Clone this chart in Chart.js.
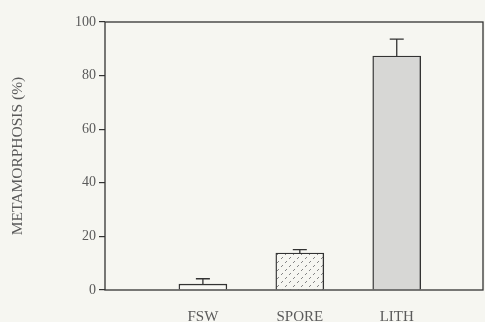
<!DOCTYPE html>
<html>
<head>
<meta charset="utf-8">
<script src="https://cdn.jsdelivr.net/npm/chart.js@4/dist/chart.umd.min.js"></script>
<style>
  html, body { margin: 0; padding: 0; background: #f6f6f1; }
  #wrap { width: 485px; height: 322px; }
</style>
</head>
<body>
<div id="wrap"><canvas id="grafico" width="485" height="322"></canvas></div>
<script>
// Datos
const categorias = ['FSW', 'SPORE', 'LITH']
const metamorfosis = [2.2, 13.8, 87.3]
const errores = [2.0, 1.3, 6.3]
const ticksY = [0, 20, 40, 60, 80, 100]

const serif = '"Liberation Serif", "DejaVu Serif", serif'
const gris = '#5a5a5a'
const linea = '#333'

// Trama punteada para la barra SPORE
const trama = () => {
  const c = document.createElement('canvas')
  c.width = 8
  c.height = 8
  const g = c.getContext('2d')
  g.fillStyle = '#f6f6f1'
  g.fillRect(0, 0, 8, 8)
  g.strokeStyle = '#777'
  g.lineWidth = 0.9
  g.beginPath()
  g.moveTo(1, 3); g.lineTo(3, 1)
  g.moveTo(5, 7); g.lineTo(7, 5)
  g.stroke()
  return g.createPattern(c, 'repeat')
}

// Marco alrededor del area del grafico
const marco = {
  id: 'marco',
  afterDatasetsDraw(chart) {
    const { ctx, chartArea: a } = chart
    ctx.save()
    ctx.strokeStyle = linea
    ctx.lineWidth = 1.3
    ctx.strokeRect(a.left, a.top, a.right - a.left, a.bottom - a.top)
    ctx.restore()
  }
}

// Barras de error (solo hacia arriba)
const barrasError = {
  id: 'barrasError',
  afterDatasetsDraw(chart) {
    const { ctx } = chart
    const y = chart.scales.y
    const meta = chart.getDatasetMeta(0)
    ctx.save()
    ctx.strokeStyle = linea
    ctx.lineWidth = 1.3
    meta.data.forEach((bar, i) => {
      const arriba = y.getPixelForValue(metamorfosis[i] + errores[i])
      ctx.beginPath()
      ctx.moveTo(bar.x, bar.y)
      ctx.lineTo(bar.x, arriba)
      ctx.moveTo(bar.x - 7, arriba)
      ctx.lineTo(bar.x + 7, arriba)
      ctx.stroke()
    })
    ctx.restore()
  }
}

new Chart(document.getElementById('grafico'), {
  type: 'bar',
  data: {
    datasets: [{
      data: metamorfosis.map((v, i) => ({ x: i, y: v })),
      backgroundColor: ['#f8f8f4', trama(), '#d7d7d5'],
      borderColor: linea,
      borderWidth: 1.4,
      borderSkipped: 'bottom',
      barThickness: 48
    }]
  },
  options: {
    responsive: false,
    animation: false,
    layout: { padding: { top: 22, right: 2, left: 0, bottom: 0 } },
    plugins: { legend: { display: false }, tooltip: { enabled: false } },
    scales: {
      x: {
        type: 'linear',
        offset: false,
        min: -1.01,
        max: 2.89,
        afterBuildTicks: s => { s.ticks = categorias.map((_, i) => ({ value: i })) },
        afterFit: s => { s.height = 32 },
        grid: { display: false, drawTicks: false },
        border: { display: false },
        ticks: {
          padding: 18,
          color: gris,
          font: { family: serif, size: 15 },
          callback: v => categorias[v] ?? ''
        }
      },
      y: {
        min: 0,
        max: 100,
        afterBuildTicks: s => { s.ticks = ticksY.map(v => ({ value: v })) },
        afterFit: s => { s.width = 105 },
        grid: { drawOnChartArea: false, drawTicks: true, tickLength: 6, color: linea, lineWidth: 1.2 },
        border: { display: false },
        ticks: {
          padding: 3,
          color: gris,
          font: { family: serif, size: 14 }
        },
        title: {
          display: true,
          text: 'METAMORPHOSIS (%)',
          color: gris,
          align: 'center',
          padding: { top: 9 },
          font: { family: serif, size: 15.5 }
        }
      }
    }
  },
  plugins: [marco, barrasError]
})
</script>
</body>
</html>
